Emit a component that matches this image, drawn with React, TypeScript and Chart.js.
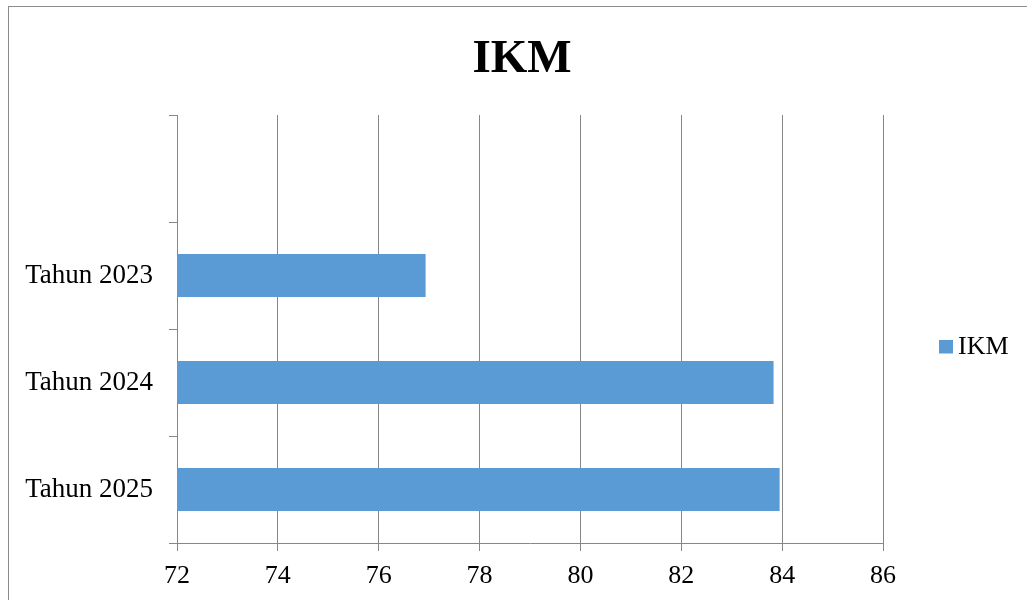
import React, { useEffect, useRef } from 'react';
import { Chart, registerables } from 'chart.js';

Chart.register(...registerables);

// ---- Data ----
const categories: string[] = ['', 'Tahun 2023', 'Tahun 2024', 'Tahun 2025'];
const ikmValues: (number | null)[] = [null, 76.93, 83.83, 83.95];
const xTicks: number[] = [72, 74, 76, 78, 80, 82, 84, 86];
const seriesName = 'IKM';
const chartTitle = 'IKM';

const SERIF = '"Liberation Serif", "Times New Roman", serif';
const BAR_COLOR = '#5B9BD5';
const AXIS_COLOR = '#878787';

const decorPlugin = {
  id: 'decor',
  beforeDraw(chart: any) {
    const ctx = chart.ctx;
    ctx.save();
    ctx.fillStyle = '#ffffff';
    ctx.fillRect(0, 0, chart.width, chart.height);
    ctx.strokeStyle = '#8c8c8c';
    ctx.lineWidth = 1;
    ctx.strokeRect(8.5, 6.5, 3000, 3000);
    ctx.restore();
  },
  afterDraw(chart: any) {
    const ctx = chart.ctx;
    ctx.save();
    // title
    ctx.fillStyle = '#000000';
    ctx.font = `bold 47px ${SERIF}`;
    ctx.textAlign = 'center';
    ctx.textBaseline = 'alphabetic';
    ctx.fillText(chartTitle, 522, 72);
    // legend
    ctx.fillStyle = BAR_COLOR;
    ctx.fillRect(939, 340, 14, 13.5);
    ctx.fillStyle = '#000000';
    ctx.font = `26px ${SERIF}`;
    ctx.textAlign = 'left';
    ctx.fillText(seriesName, 958, 354);
    ctx.restore();
  },
};

export default function App() {
  const canvasRef = useRef<HTMLCanvasElement | null>(null);

  useEffect(() => {
    if (!canvasRef.current) return;
    const chart = new Chart(canvasRef.current, {
      type: 'bar',
      data: {
        labels: categories,
        datasets: [
          {
            label: seriesName,
            data: ikmValues,
            backgroundColor: BAR_COLOR,
            borderWidth: 0,
            barPercentage: 1,
            categoryPercentage: 0.4,
          },
        ],
      },
      options: {
        indexAxis: 'y',
        responsive: false,
        animation: false,
        layout: { padding: { top: 115, right: 144, left: 0, bottom: 0 } },
        plugins: {
          legend: { display: false },
          title: { display: false },
          tooltip: { enabled: false },
        },
        scales: {
          x: {
            type: 'linear',
            min: xTicks[0],
            max: xTicks[xTicks.length - 1],
            ticks: {
              stepSize: xTicks[1] - xTicks[0],
              color: '#000000',
              font: { family: SERIF, size: 26 },
              padding: 10,
            },
            grid: { color: AXIS_COLOR, tickLength: 8, drawOnChartArea: true },
            border: { color: AXIS_COLOR },
            afterFit: (s: any) => {
              s.height = 57;
            },
          },
          y: {
            type: 'category',
            grid: { color: AXIS_COLOR, tickLength: 8, drawOnChartArea: false, offset: true },
            border: { color: AXIS_COLOR },
            ticks: {
              color: '#000000',
              font: { family: SERIF, size: 27 },
              padding: 16,
            },
            afterFit: (s: any) => {
              s.width = 177;
            },
          },
        },
      },
      plugins: [decorPlugin],
    } as any);
    return () => chart.destroy();
  }, []);

  return (
    <div style={{ position: 'fixed', left: 0, top: 0, width: 1027, height: 600, overflow: 'hidden' }}>
      <canvas ref={canvasRef} width={1027} height={600} style={{ display: 'block' }} />
    </div>
  );
}
